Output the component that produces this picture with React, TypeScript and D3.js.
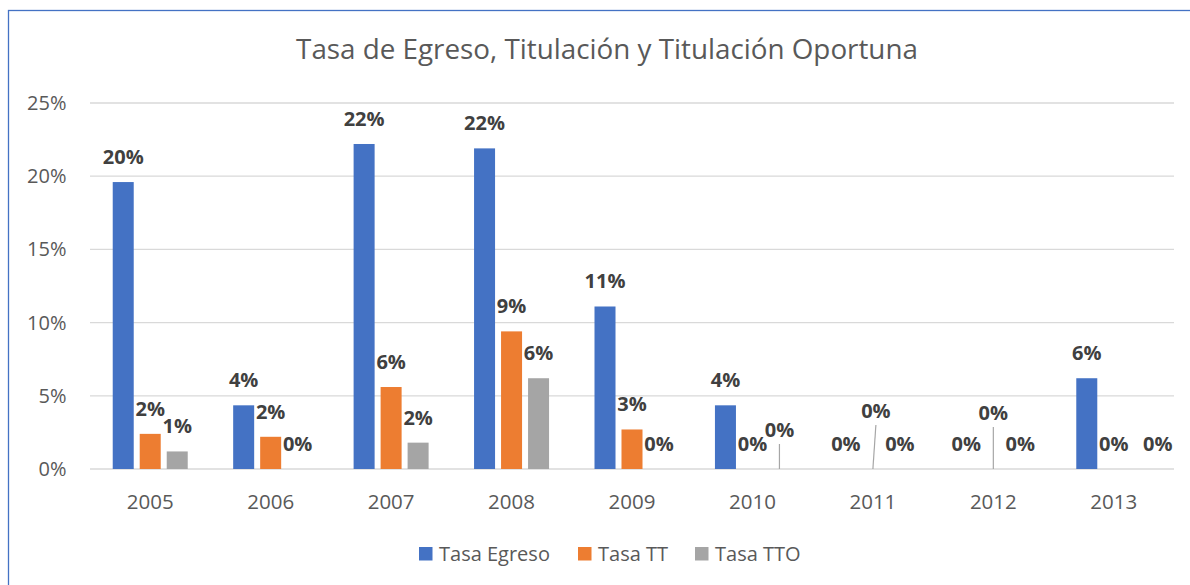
import React from 'react'
import * as d3 from 'd3'

const years = ['2005', '2006', '2007', '2008', '2009', '2010', '2011', '2012', '2013']
const seriesNames = ['Tasa Egreso', 'Tasa TT', 'Tasa TTO']
const tasaEgreso = [0.196, 0.0435, 0.222, 0.219, 0.111, 0.0435, 0, 0, 0.062]
const tasaTT = [0.024, 0.022, 0.056, 0.094, 0.027, 0, 0, 0, 0]
const tasaTTO = [0.012, 0, 0.018, 0.062, 0, 0, 0, 0, 0]
const yTicks = [0, 0.05, 0.1, 0.15, 0.2, 0.25]

const colors = ['#4472c4', '#ed7d31', '#a5a5a5']
const FONT = '"Open Sans", "Noto Sans", sans-serif'

// labels that were dragged by hand in the original (dx, dy, leader line)
const nudges: Record<string, { dx: number; dy: number; leader?: boolean }> = {
  '2010-2': { dx: 0, dy: -14, leader: true },
  '2011-1': { dx: 3, dy: -33, leader: true },
  '2012-1': { dx: 0, dy: -31, leader: true },
  '2013-2': { dx: 17, dy: 0 },
}

const W = 1190
const H = 585
const left = 90
const right = 1174
const top = 103
const bottom = 469

export default function App() {
  const x0 = d3.scaleBand().domain(years).range([left, right]).paddingInner(0).paddingOuter(0)
  const x1 = d3.scaleBand().domain(seriesNames).range([-37.5, 37.5]).paddingInner(0.222).paddingOuter(0)
  const y = d3.scaleLinear().domain([0, 0.25]).range([bottom, top])
  const fmt = d3.format('.0%')
  const allSeries = [tasaEgreso, tasaTT, tasaTTO]

  const legendItems = [
    { name: seriesNames[0], x: 419 },
    { name: seriesNames[1], x: 578 },
    { name: seriesNames[2], x: 695 },
  ]

  return (
    <svg width={W} height={H} style={{ position: 'absolute', left: 0, top: 0, display: 'block' }}>
      <rect x={0} y={0} width={W} height={H} fill="#fff" />
      <rect x={8.5} y={10.5} width={W + 20} height={H + 20} fill="none" stroke="#4472c4" strokeWidth={1.3} />

      <text x={607} y={59} textAnchor="middle" fontFamily={FONT} fontSize={27.8} fill="#595959">
        Tasa de Egreso, Titulación y Titulación Oportuna
      </text>

      {yTicks.map(t => (
        <g key={t}>
          <line x1={left} x2={right} y1={y(t)} y2={y(t)} stroke="#d9d9d9" strokeWidth={1.3} />
          <text x={66.5} y={y(t)} dy="0.35em" textAnchor="end" fontFamily={FONT} fontSize={20} fill="#595959">
            {fmt(t)}
          </text>
        </g>
      ))}

      {years.map(yr => (
        <text key={yr} x={x0(yr)! + x0.bandwidth() / 2} y={502} dy="0.35em" textAnchor="middle"
          fontFamily={FONT} fontSize={20.5} fill="#595959">
          {yr}
        </text>
      ))}

      {allSeries.map((vals, si) =>
        vals.map((v, i) => {
          const cx = x0(years[i])! + x0.bandwidth() / 2
          const bx = cx + x1(seriesNames[si])!
          return (
            <rect key={`b-${si}-${i}`} x={bx} y={y(v)} width={x1.bandwidth()} height={bottom - y(v)} fill={colors[si]} />
          )
        })
      )}

      {allSeries.map((vals, si) =>
        vals.map((v, i) => {
          const cx = x0(years[i])! + x0.bandwidth() / 2
          const mid = cx + x1(seriesNames[si])! + x1.bandwidth() / 2
          const n = nudges[`${years[i]}-${si}`] || { dx: 0, dy: 0 }
          const ly = y(v) - 25 + n.dy
          return (
            <g key={`l-${si}-${i}`}>
              {n.leader && (
                <line x1={mid} y1={y(v)} x2={mid + n.dx} y2={ly + 14} stroke="#a6a6a6" strokeWidth={1.2} />
              )}
              <text x={mid + n.dx} y={ly} dy="0.35em" textAnchor="middle" fontFamily={FONT}
                fontSize={20} fontWeight="bold" fill="#404040">
                {fmt(v)}
              </text>
            </g>
          )
        })
      )}

      {legendItems.map((d, i) => (
        <g key={d.name}>
          <rect x={d.x} y={547} width={13.5} height={13.5} fill={colors[i]} />
          <text x={d.x + 20} y={554} dy="0.35em" fontFamily={FONT} fontSize={20} fill="#595959">
            {d.name}
          </text>
        </g>
      ))}
    </svg>
  )
}
